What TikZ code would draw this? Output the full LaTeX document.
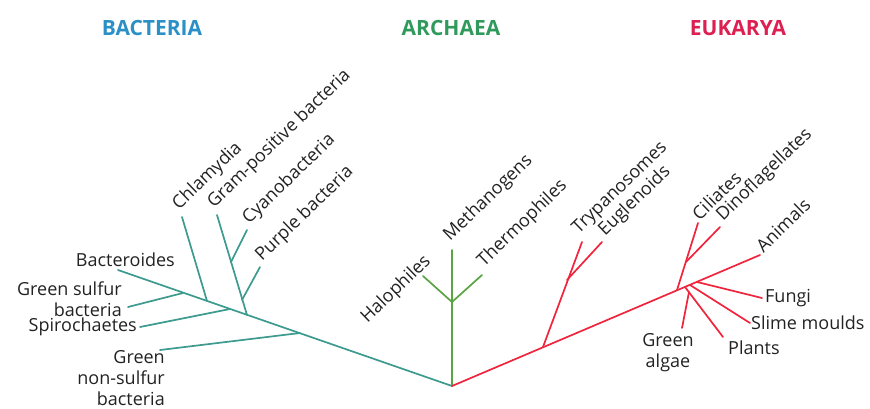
\documentclass[tikz,border=0pt]{standalone}
\usepackage{fontspec}
\setmainfont{Open Sans}
\usetikzlibrary{positioning}
\definecolor{bactline}{HTML}{3C9A8E}
\definecolor{archline}{HTML}{5BA443}
\definecolor{eukline}{HTML}{F0243C}
\definecolor{bacthead}{HTML}{2B90C6}
\definecolor{archhead}{HTML}{2F9A5C}
\definecolor{eukhead}{HTML}{DD1F52}
\definecolor{labeltext}{HTML}{222222}
\tikzset{
every node/.style={font=\fontsize{18}{21}\selectfont, text=labeltext, inner sep=1pt}, % plain taxon labels
domaintitle/.style={font=\fontsize{21}{24}\selectfont\bfseries}, % the three domain titles
slanted/.style={rotate=44, anchor=west}, % labels running up the tips
bbranch/.style={draw=bactline, line width=1.7pt, line cap=round},
abranch/.style={draw=archline, line width=1.7pt, line cap=round},
ebranch/.style={draw=eukline, line width=1.7pt, line cap=round},
}

\begin{document}
\begin{tikzpicture}[x=1pt, y=-1pt]
    \useasboundingbox (0,0) rectangle (870,408);
    % titles
    \node[domaintitle, text=bacthead] (bacteria) at (152,28) {BACTERIA};
    \node[domaintitle, text=archhead] (archaea) at (451,28) {ARCHAEA};
    \node[domaintitle, text=eukhead] (eukarya) at (738,28) {EUKARYA};

    \coordinate (root) at (452,386);

    % bacteria
    \coordinate (bacteroides) at (118,270);
    \coordinate (bj1) at (183,293);
    \coordinate (bj2) at (207,301);
    \coordinate (bj3) at (230,309);
    \coordinate (bj4) at (247,315);
    \coordinate (bj5) at (300,333);
    \coordinate (gsulfur) at (128,307);
    \coordinate (spiro) at (140,327);
    \coordinate (gnonsulfur) at (160,350);
    \coordinate (chlam) at (182,217);
    \coordinate (gram) at (217,215);
    \coordinate (cyanoj) at (231,262);
    \coordinate (cyano) at (247,230);
    \coordinate (purplej) at (242,300);
    \coordinate (purple) at (260,267);
    \draw[bbranch] (root) -- (bacteroides);
    \draw[bbranch] (bj1) -- (gsulfur);
    \draw[bbranch] (bj2) -- (chlam);
    \draw[bbranch] (bj3) -- (spiro);
    \draw[bbranch] (bj4) -- (gram);
    \draw[bbranch] (cyanoj) -- (cyano);
    \draw[bbranch] (purplej) -- (purple);
    \draw[bbranch] (bj5) -- (gnonsulfur);

    \node[anchor=east] (lbacteroides) at (176,260) {Bacteroides};
    \node[anchor=east, align=right] (lgsulfur) at (123,299) {Green sulfur\\bacteria};
    \node[anchor=east] (lspiro) at (138,327) {Spirochaetes};
    \node[anchor=north east, align=right] (lgnonsulfur) at (166,349) {Green\\non-sulfur\\bacteria};
    \node[slanted] (lchlam) at (175,208) {Chlamydia};
    \node[slanted] (lgram) at (210,206) {Gram-positive bacteria};
    \node[slanted] (lcyano) at (245,222) {Cyanobacteria};
    \node[slanted] (lpurple) at (258,259) {Purple bacteria};

    % archaea
    \coordinate (methano) at (452,250);
    \coordinate (afork) at (452,302);
    \coordinate (halo) at (423,276);
    \coordinate (thermo) at (482,275);
    \draw[abranch] (root) -- (methano);
    \draw[abranch] (afork) -- (halo);
    \draw[abranch] (afork) -- (thermo);

    \node[rotate=44, anchor=east] (lhalo) at (429,258) {Halophiles};
    \node[slanted] (lmethano) at (446,239) {Methanogens};
    \node[slanted] (lthermo) at (480,265) {Thermophiles};

    % eukarya
    \coordinate (animals) at (760,255);
    \coordinate (ej1) at (543,347);
    \coordinate (tfork) at (567,280);
    \coordinate (trypano) at (582,242);
    \coordinate (eugleno) at (602,242);
    \coordinate (ej2) at (677,290);
    \coordinate (cilia) at (698,223);
    \coordinate (dinoj) at (686,262);
    \coordinate (dino) at (720,227);
    \coordinate (fungij) at (697,282);
    \coordinate (fungi) at (762,298);
    \coordinate (slimej) at (690,285);
    \coordinate (slime) at (750,323);
    \coordinate (plantsj) at (685,287);
    \coordinate (plants) at (723,337);
    \coordinate (algaej) at (689,292);
    \coordinate (algae) at (682,328);
    \draw[ebranch] (root) -- (animals);
    \draw[ebranch] (ej1) -- (trypano);
    \draw[ebranch] (tfork) -- (eugleno);
    \draw[ebranch] (ej2) -- (cilia);
    \draw[ebranch] (dinoj) -- (dino);
    \draw[ebranch] (fungij) -- (fungi);
    \draw[ebranch] (slimej) -- (slime);
    \draw[ebranch] (plantsj) -- (plants);
    \draw[ebranch] (algaej) -- (algae);

    \node[slanted] (ltrypano) at (575,232) {Trypanosomes};
    \node[slanted] (leugleno) at (601,234) {Euglenoids};
    \node[slanted] (lcilia) at (694,217) {Ciliates};
    \node[slanted] (ldino) at (719,219) {Dinoflagellates};
    \node[slanted] (lanimals) at (758,249) {Animals};
    \node[right=2pt of fungi] (lfungi) {Fungi};
    \node[right=0pt of slime] (lslime) {Slime moulds};
    \node[anchor=west] (lplants) at (727,348) {Plants};
    \node[anchor=north, align=center] (lalgae) at (668,332) {Green\\algae};
\end{tikzpicture}
\end{document}
